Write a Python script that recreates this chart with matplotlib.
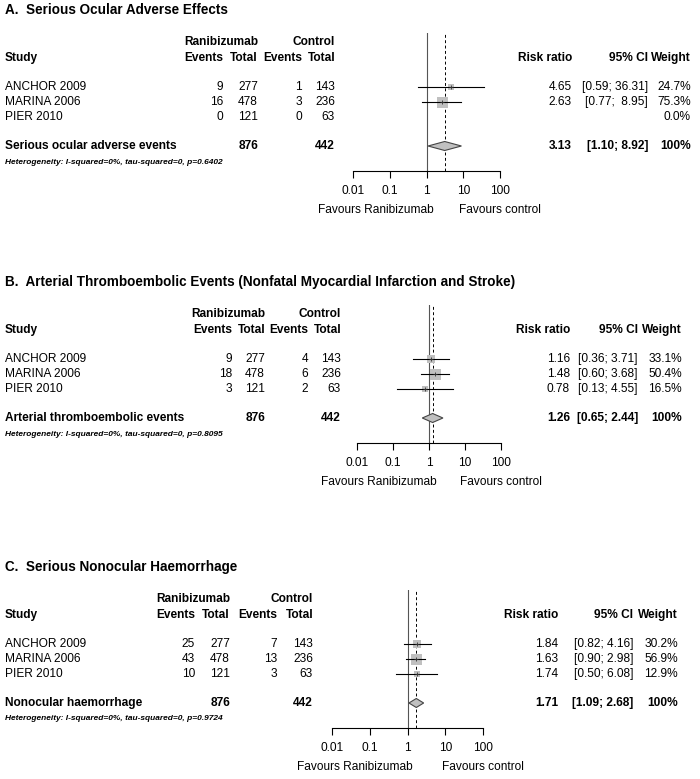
"""Three forest plots: ranibizumab vs control, risk ratios."""
import matplotlib
matplotlib.use('Agg')
import matplotlib.pyplot as plt
from matplotlib.ticker import NullLocator

plt.rcParams['font.family'] = ['Liberation Sans', 'DejaVu Sans']

studies = ['ANCHOR 2009', 'MARINA 2006', 'PIER 2010']
ran_totals = [277, 478, 121]
ctl_totals = [143, 236, 63]
ran_total_sum = 876
ctl_total_sum = 442

# A. serious ocular adverse events
a_ran_events = [9, 16, 0]
a_ctl_events = [1, 3, 0]
a_rr = [4.65, 2.63, None]
a_lo = [0.59, 0.77, None]
a_hi = [36.31, 8.95, None]
a_weight = [24.7, 75.3, 0.0]
a_pooled = [3.13, 1.10, 8.92]
a_het_p = '0.6402'

# B. arterial thromboembolic events
b_ran_events = [9, 18, 3]
b_ctl_events = [4, 6, 2]
b_rr = [1.16, 1.48, 0.78]
b_lo = [0.36, 0.60, 0.13]
b_hi = [3.71, 3.68, 4.55]
b_weight = [33.1, 50.4, 16.5]
b_pooled = [1.26, 0.65, 2.44]
b_het_p = '0.8095'

# C. serious nonocular haemorrhage
c_ran_events = [25, 43, 10]
c_ctl_events = [7, 13, 3]
c_rr = [1.84, 1.63, 1.74]
c_lo = [0.82, 0.90, 0.50]
c_hi = [4.16, 2.98, 6.08]
c_weight = [30.2, 56.9, 12.9]
c_pooled = [1.71, 1.09, 2.68]
c_het_p = '0.9724'

ticks = [0.01, 0.1, 1, 10, 100]
tick_labels = ['0.01', '0.1', '1', '10', '100']

W, H = 700, 779
FS = 8.6
GREY = '#c0c0c0'

panels = [
    dict(title='A.  Serious Ocular Adverse Effects', label='Serious ocular adverse events',
         ev_r=a_ran_events, ev_c=a_ctl_events, rr=a_rr, lo=a_lo, hi=a_hi, w=a_weight,
         pooled=a_pooled, het=a_het_p,
         off=0, cols=(223, 258, 302, 335), forest=(353, 500), right=(572, 648, 691)),
    dict(title='B.  Arterial Thromboembolic Events (Nonfatal Myocardial Infarction and Stroke)',
         label='Arterial thromboembolic events',
         ev_r=b_ran_events, ev_c=b_ctl_events, rr=b_rr, lo=b_lo, hi=b_hi, w=b_weight,
         pooled=b_pooled, het=b_het_p,
         off=272, cols=(232, 265, 308, 341), forest=(357, 501), right=(570, 638, 682)),
    dict(title='C.  Serious Nonocular Haemorrhage', label='Nonocular haemorrhage',
         ev_r=c_ran_events, ev_c=c_ctl_events, rr=c_rr, lo=c_lo, hi=c_hi, w=c_weight,
         pooled=c_pooled, het=c_het_p,
         off=557, cols=(195, 230, 277, 313), forest=(332, 483), right=(558, 633, 678)),
]

fig = plt.figure(figsize=(W / 100, H / 100), dpi=100)
bg = fig.add_axes([0, 0, 1, 1])
bg.set_xlim(0, W)
bg.set_ylim(H, 0)
bg.axis('off')


def txt(x, y, s, ha='right', **kw):
    kw.setdefault('fontsize', FS)
    bg.text(x, y, s, ha=ha, va='center', **kw)


for p in panels:
    off = p['off']
    c1, c2, c3, c4 = p['cols']
    r1, r2, r3 = p['right']
    rows_y = [off + 87, off + 102, off + 117]
    sum_y = off + 146

    txt(5, off + 10, p['title'], ha='left', fontsize=9.75, fontweight='bold')
    txt(c2, off + 42, 'Ranibizumab', fontweight='bold')
    txt(c4, off + 42, 'Control', fontweight='bold')
    txt(5, off + 58, 'Study', ha='left', fontweight='bold')
    for x, s in [(c1, 'Events'), (c2, 'Total'), (c3, 'Events'), (c4, 'Total'),
                 (r1, 'Risk ratio'), (r2, '95% CI'), (r3, 'Weight')]:
        txt(x, off + 58, s, fontweight='bold')

    wide = any(h is not None and h >= 10 for h in p['hi'])
    for i, y in enumerate(rows_y):
        txt(5, y, studies[i], ha='left')
        txt(c1, y, str(p['ev_r'][i]))
        txt(c2, y, str(ran_totals[i]))
        txt(c3, y, str(p['ev_c'][i]))
        txt(c4, y, str(ctl_totals[i]))
        if p['rr'][i] is not None:
            hi = p['hi'][i]
            pad = '  ' if wide and hi < 10 else ' '
            txt(r1, y, f"{p['rr'][i]:.2f}")
            txt(r2, y, f"[{p['lo'][i]:.2f};{pad}{hi:.2f}]")
        txt(r3, y, f"{p['w'][i]:.1f}%")

    est, plo, phi = p['pooled']
    txt(5, sum_y, p['label'], ha='left', fontweight='bold')
    txt(c2, sum_y, str(ran_total_sum), fontweight='bold')
    txt(c4, sum_y, str(ctl_total_sum), fontweight='bold')
    txt(r1, sum_y, f'{est:.2f}', fontweight='bold')
    txt(r2, sum_y, f'[{plo:.2f}; {phi:.2f}]', fontweight='bold')
    txt(r3, sum_y, '100%', fontweight='bold')
    txt(5, off + 162, f'Heterogeneity: I-squared=0%, tau-squared=0, p={p["het"]}',
        ha='left', fontsize=6.0, fontstyle='italic', fontweight='bold')

    # forest part: x on a log scale, y in pixel rows of the figure
    fx0, fx1 = p['forest']
    y_axis, y_top = off + 171, off + 33
    fax = fig.add_axes([fx0 / W, 1 - y_axis / H, (fx1 - fx0) / W, (y_axis - y_top) / H])
    fax.patch.set_visible(False)
    fax.set_xscale('log')
    fax.set_xlim(0.01, 100)
    fax.set_ylim(y_axis, y_top)
    for side in ['top', 'left', 'right']:
        fax.spines[side].set_visible(False)
    fax.spines['bottom'].set_linewidth(0.8)
    fax.set_yticks([])
    fax.set_xticks(ticks)
    fax.set_xticklabels(tick_labels)
    fax.xaxis.set_minor_locator(NullLocator())
    fax.tick_params(axis='x', direction='out', length=5, width=0.8, labelsize=FS, pad=5)

    fax.axvline(1, color='#555555', lw=0.8, zorder=1)
    fax.axvline(est, color='black', lw=0.7, ls=(0, (3, 2.5)), zorder=1)

    wmax = max(p['w'])
    for i, y in enumerate(rows_y):
        if p['rr'][i] is None:
            continue
        side = 11 * (p['w'][i] / wmax) ** 0.5 * 0.72
        fax.scatter([p['rr'][i]], [y], s=side ** 2, marker='s', color=GREY,
                    linewidths=0, zorder=2, clip_on=False)
        fax.plot([p['lo'][i], p['hi'][i]], [y, y], color='black', lw=0.8, zorder=3,
                 clip_on=False)
        fax.plot([p['rr'][i]], [y], marker='+', ms=2.5, mew=0.6, color='#333333', zorder=4)

    fax.fill([plo, est, phi, est], [sum_y, sum_y - 4.5, sum_y, sum_y + 4.5],
             facecolor=GREY, edgecolor='#444444', lw=0.8, zorder=3)

    fax.text(0.041, off + 210, 'Favours Ranibizumab', ha='center', va='center', fontsize=FS)
    fax.text(98, off + 210, 'Favours control', ha='center', va='center', fontsize=FS)

fig.savefig('out.png', dpi=100)
